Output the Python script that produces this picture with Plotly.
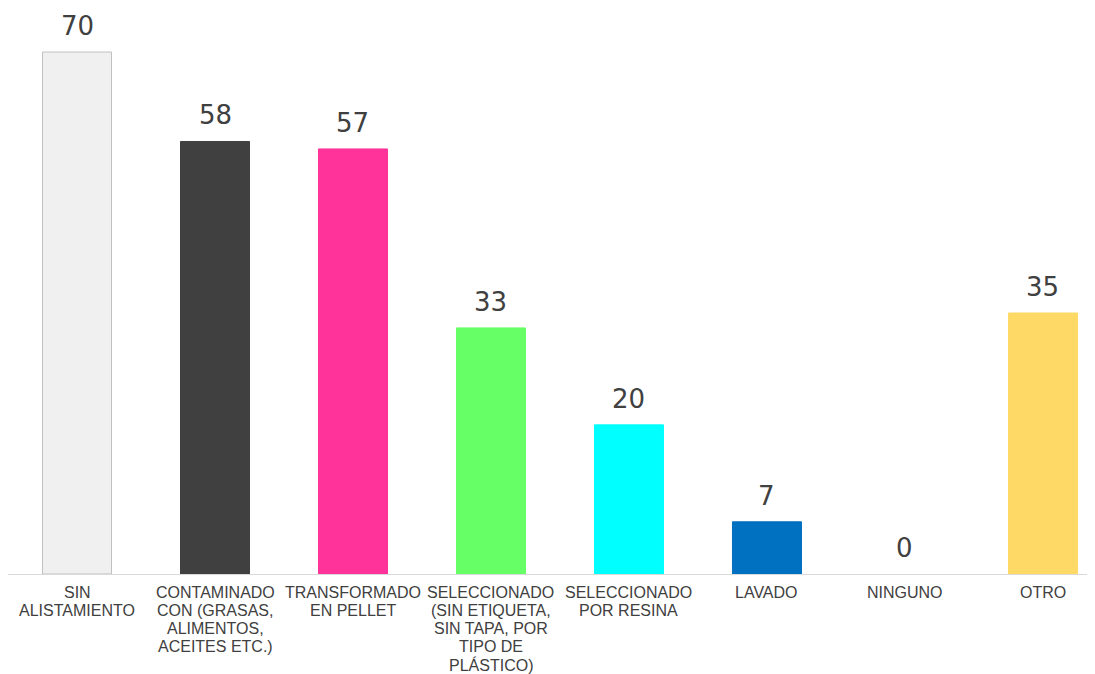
import plotly.graph_objects as go

categories = [
    "SIN<br>ALISTAMIENTO",
    "CONTAMINADO<br>CON (GRASAS,<br>ALIMENTOS,<br>ACEITES ETC.)",
    "TRANSFORMADO<br>EN PELLET",
    "SELECCIONADO<br>(SIN ETIQUETA,<br>SIN TAPA, POR<br>TIPO DE<br>PLÁSTICO)",
    "SELECCIONADO<br>POR RESINA",
    "LAVADO",
    "NINGUNO",
    "OTRO",
]
values = [70, 58, 57, 33, 20, 7, 0, 35]
colors = ["#F0F0F0", "#404040", "#FF3399", "#66FF66", "#00FFFF", "#0070C0", "#FFFFFF", "#FFD966"]
line_colors = ["#C0C0C0", "#404040", "#FF3399", "#66FF66", "#00FFFF", "#0070C0", "#FFFFFF", "#FFD966"]

xs = list(range(len(categories)))

fig = go.Figure()
fig.add_trace(go.Bar(
    x=xs,
    y=values,
    marker=dict(color=colors, line=dict(color=line_colors, width=1)),
    hoverinfo="skip",
))

# value labels above bars
for i, v in enumerate(values):
    fig.add_annotation(
        x=i, y=v, text=str(v), showarrow=False,
        xanchor="center", yanchor="bottom", yshift=9,
        font=dict(family="DejaVu Sans", size=26, color="#404040"),
    )

# category labels (one annotation per line for tight line spacing)
for i, cat in enumerate(categories):
    for j, line in enumerate(cat.split("<br>")):
        fig.add_annotation(
            x=i, y=0, text=line, showarrow=False,
            xanchor="center", yanchor="middle", yshift=-(18 + 18.2 * j),
            font=dict(family="Liberation Sans, Arial", size=16, color="#404040"),
        )

fig.update_layout(
    width=1087, height=666,
    margin=dict(l=0, r=0, t=0, b=100),
    paper_bgcolor="white", plot_bgcolor="white",
    bargap=0.5,
    showlegend=False,
    xaxis=dict(
        range=[-0.5, 7.377],
        showgrid=False, zeroline=False,
        showline=True, linecolor="#D9D9D9", linewidth=1,
        ticks="", showticklabels=False,
    ),
    yaxis=dict(
        range=[0, 75.9], visible=False, showgrid=False, zeroline=False,
    ),
)

fig.write_html("out.html")
